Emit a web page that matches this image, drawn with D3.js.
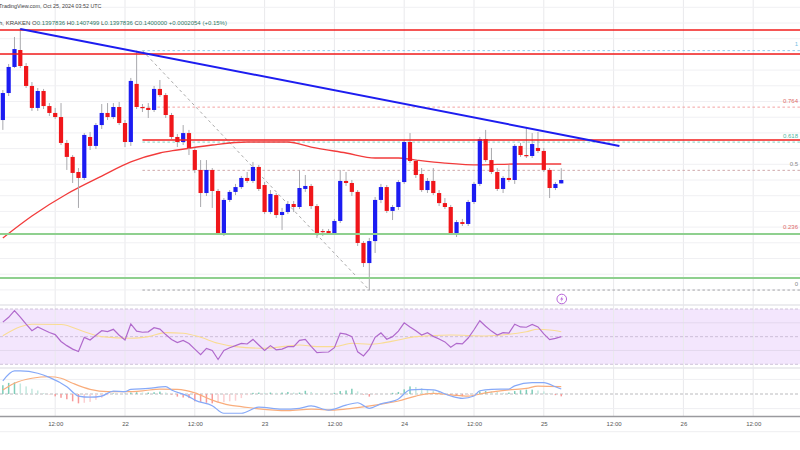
<!DOCTYPE html>
<html><head><meta charset="utf-8">
<script src="https://cdn.jsdelivr.net/npm/d3@7/dist/d3.min.js"></script>
<style>html,body{margin:0;padding:0;background:#fff;} svg{display:block;font-family:"Liberation Sans",Arial,sans-serif;}</style>
</head><body><svg id="c" width="800" height="450"></svg>
<script>
// ---------- DATA ----------
const firstCandleUTC = Date.UTC(2024, 9, 21, 3); // Oct 21 03:00, hourly candles
const opens = [
0.14382,0.14554,0.14720,0.14828,0.14726,0.14599,0.14459,0.14567,0.14471,0.14427,
0.14401,0.14236,0.14147,0.14051,0.14013,0.14274,0.14217,0.14350,0.14427,0.14401,
0.14465,0.14363,0.14242,0.14612,0.14465,0.14459,0.14446,0.14580,0.14541,0.14414,
0.14274,0.14242,0.14299,0.14191,0.14064,0.13917,0.14064,0.13930,0.13662,0.13873,
0.13924,0.13955,0.14013,0.13994,0.14083,0.13968,0.13796,0.13904,0.13777,0.13796,
0.13847,0.13828,0.13943,0.13962,0.13834,0.13675,0.13675,0.13662,0.13739,0.13994,
0.13981,0.13924,0.13599,0.13471,0.13611,0.13873,0.13955,0.13803,0.13828,0.13987,
0.14242,0.14121,0.14038,0.13936,0.13994,0.13917,0.13853,0.13828,0.13662,0.13732,
0.13720,0.13860,0.13975,0.14261,0.14127,0.14051,0.13943,0.14013,0.14000,0.14217,
0.14159,0.14153,0.14204,0.14185,0.14064,0.13949,0.1397836];
const highs = [
0.14573,0.14739,0.14911,0.14968,0.14745,0.14624,0.14586,0.14580,0.14490,0.14459,
0.14490,0.14255,0.14159,0.14076,0.14299,0.14306,0.14363,0.14484,0.14490,0.14490,
0.14497,0.14382,0.14650,0.14824,0.14484,0.14490,0.14599,0.14637,0.14554,0.14427,
0.14293,0.14350,0.14319,0.14204,0.14127,0.14127,0.14076,0.13943,0.13885,0.13936,
0.13975,0.14025,0.14051,0.14115,0.14096,0.13987,0.13936,0.13917,0.13822,0.13866,
0.13866,0.14064,0.14032,0.13975,0.13847,0.13688,0.13688,0.13752,0.14064,0.14051,
0.14000,0.13936,0.13611,0.13631,0.13892,0.13975,0.13968,0.13841,0.14000,0.14255,
0.14299,0.14134,0.14076,0.14013,0.14076,0.13936,0.13885,0.13841,0.13745,0.13752,
0.13873,0.13987,0.14274,0.14319,0.14204,0.14076,0.14025,0.14096,0.14229,0.14236,
0.14338,0.14299,0.14306,0.14204,0.14076,0.13987,0.1407499];
const lows = [
0.14319,0.14535,0.14713,0.14713,0.14586,0.14440,0.14440,0.14452,0.14408,0.14389,
0.14223,0.14064,0.13981,0.13822,0.14000,0.14191,0.14197,0.14325,0.14382,0.14389,
0.14350,0.14210,0.14217,0.14452,0.14433,0.14395,0.14433,0.14529,0.14395,0.14261,
0.14210,0.14223,0.14159,0.14045,0.13828,0.13898,0.13822,0.13650,0.13643,0.13860,
0.13904,0.13943,0.13981,0.13981,0.13930,0.13783,0.13783,0.13758,0.13682,0.13783,
0.13796,0.13815,0.13924,0.13815,0.13631,0.13643,0.13650,0.13650,0.13726,0.13962,
0.13898,0.13580,0.13446,0.13299,0.13535,0.13853,0.13790,0.13745,0.13809,0.13975,
0.14108,0.14013,0.13924,0.13917,0.13904,0.13834,0.13815,0.13650,0.13637,0.13707,
0.13707,0.13847,0.13962,0.14115,0.14038,0.13930,0.13917,0.13987,0.13975,0.14147,
0.14140,0.14140,0.14172,0.14051,0.13885,0.13936,0.1397836];
const closes = [
0.14554,0.14720,0.14834,0.14726,0.14599,0.14459,0.14567,0.14471,0.14427,0.14401,
0.14236,0.14147,0.14045,0.14013,0.14287,0.14217,0.14350,0.14427,0.14401,0.14465,
0.14363,0.14242,0.14631,0.14465,0.14459,0.14446,0.14580,0.14541,0.14414,0.14274,
0.14242,0.14299,0.14204,0.14064,0.13917,0.14064,0.13930,0.13662,0.13873,0.13924,
0.13955,0.14013,0.13994,0.14083,0.13943,0.13796,0.13911,0.13777,0.13796,0.13847,
0.13828,0.13949,0.13962,0.13834,0.13656,0.13669,0.13662,0.13739,0.13994,0.13981,
0.13924,0.13599,0.13471,0.13611,0.13873,0.13955,0.13803,0.13828,0.13987,0.14242,
0.14121,0.14032,0.13936,0.13994,0.13917,0.13853,0.13828,0.13662,0.13732,0.13720,
0.13860,0.13975,0.14261,0.14127,0.14051,0.13943,0.14013,0.14000,0.14217,0.14159,
0.14153,0.14229,0.14185,0.14064,0.13949,0.13975,0.14000];

// 100 EMA (sampled readings: candle index / price)
const emaIdx = [0,5,11,17,22,27,30,36,42,49,53,59,64,68,71,76,82,88,96];
const emaVal = [0.13631,0.13771,0.13911,0.14025,0.14115,0.14172,0.14191,0.14223,0.14242,0.14242,0.14210,0.14172,0.14140,0.14140,0.14127,0.14108,0.14096,0.14102,0.14102];

// horizontal levels
const resistanceLevels = [0.14956, 0.14803];       // full width
const pivotLevel = 0.14255; const pivotStartIdx = 24;
const supportLevels = [0.13656, 0.13376];
// bearish trend line (index, price)
const trendIdx = [3, 106];
const trendVal = [0.14962, 0.14217];
// Fibonacci retracement
const fibHighIdx = 24, fibLowIdx = 63;
const fibHigh = 0.14824, fibLow = 0.13299;
const fibLevels = [1, 0.764, 0.618, 0.5, 0.236, 0];
const fibLabels = ["1", "0.764", "0.618", "0.5", "0.236", "0"];

// RSI (per candle)
const rsi = [60.5,64,68.8,64.2,59,54.3,57,55,53,51.5, 46.5,43.5,41,39.2,49.5,47.6,51,54.3,53.6,55.3,
51,47.6,59.2,54,53.2,53.5,56.5,55.5,51.5,48, 45.7,47.3,45,41,37,41.5,40,33.5,40,42,
43.5,45.1,44.7,48,44,40,43.5,40.5,41,42.8, 42.8,47.3,48,43,38.4,38.7,38.9,42,52.5,51.8,
50,39,36,41,49.5,52.7,48.1,50,54,60, 57,54.2,51.2,52.8,50.2,48.3,46.2,42.4,45.2,44.8,
49,55,61.5,57.5,54,51.2,52.9,52.6,59,57, 56.8,58.8,57,52,47.8,48.8,50];
const rsiMaIdx = [0,3,5,10,14,17,22,25,28,31,34,37,40,45,51,54,57,60,63,65,68,71,77,83,87,90,92,94,96];
const rsiMaVal = [50.7,57.2,59,58.8,53.6,50,48.8,50,52.9,52.5,49.5,45.2,42.8,41.6,44,42.8,42.8,45.2,44.5,45.2,47.6,50,51.2,50.5,51.7,53.6,55.3,54.8,53.6];

// MACD (sampled readings)
const macdIdx = [0,2,3,6,8,11,13,15,17,19,21,22,25,28,29,32,33,36,38,41,44,48,51,53,56,59,61,63,65,68,70,72,74,77,79,81,82,84,87,88,91,93,95,96];
const macdVal = [0.00045,0.00079,0.00079,0.00071,0.00057,0.00025,-0.00007,-0.00011,-0.00007,0.00010,
0.00008,0.00016,0.00019,0.00025,0.00014,-0.00009,-0.00021,-0.00040,-0.00066,-0.00066,
-0.00045,-0.00052,-0.00049,-0.00041,-0.00055,-0.00038,-0.00030,-0.00049,-0.00034,-0.00017,
0.00014,0.00016,0.00014,-0.00007,-0.00015,-0.00007,0.00011,0.00016,0.00017,0.00028,
0.00039,0.00039,0.00025,0.00017];
const signalIdx = [0,2,5,8,10,12,15,18,21,24,27,30,33,36,39,41,44,49,53,57,60,64,68,71,74,77,80,83,87,90,92,96];
const signalVal = [0.00014,0.00037,0.00054,0.00059,0.00054,0.00037,0.00016,0.00008,0.00008,0.00011,
0.00017,0.00016,0.00004,-0.00021,-0.00038,-0.00043,-0.00051,-0.00057,-0.00052,-0.00055,
-0.00049,-0.00038,-0.00024,-0.00007,0.00002,-0.00003,-0.00007,0.00004,0.00014,0.00019,0.00027,0.00025];
const histogram = [0.00030,0.00038,0.00040,0.00036,0.00026,0.00018,0.00012,0.00003,-0.00001,-0.00008,
-0.00013,-0.00018,-0.00025,-0.00032,-0.00030,-0.00027,-0.00020,-0.00013,-0.00004,0.00002,
0.00000,0.00001,0.00005,0.00006,0.00005,0.00005,0.00006,0.00008,0.00005,-0.00002,
-0.00009,-0.00012,-0.00014,-0.00025,-0.00027,-0.00030,-0.00032,-0.00030,-0.00028,-0.00025,
-0.00023,-0.00014,-0.00004,0.00004,0.00005,0.00004,0.00005,0.00004,0.00005,0.00007,
0.00005,0.00005,0.00011,0.00007,0.00003,0.00001,0.00000,0.00004,0.00010,0.00012,
0.00018,0.00009,-0.00002,-0.00009,-0.00002,0.00000,0.00000,0.00004,0.00007,0.00016,
0.00026,0.00024,0.00020,0.00014,0.00012,0.00007,0.00002,-0.00004,-0.00007,-0.00008,
-0.00004,-0.00002,0.00009,0.00010,0.00009,0.00007,0.00004,0.00005,0.00010,0.00013,
0.00015,0.00015,0.00012,0.00009,0.00002,-0.00004,-0.00008];

// time axis
const tickTimes = [Date.UTC(2024,9,21,12),Date.UTC(2024,9,22,0),Date.UTC(2024,9,22,12),Date.UTC(2024,9,23,0),
Date.UTC(2024,9,23,12),Date.UTC(2024,9,24,0),Date.UTC(2024,9,24,12),Date.UTC(2024,9,25,0),
Date.UTC(2024,9,25,12),Date.UTC(2024,9,26,0),Date.UTC(2024,9,26,12)];
const tickLabels = ["12:00","22","12:00","23","12:00","24","12:00","25","12:00","26","12:00"];

const headerLine1 = "TradingView.com, Oct 25, 2024 03:52 UTC";
const headerSymbol = "h, KRAKEN";
const headerOHLC = [["O","0.1397836"],["H","0.1407499"],["L","0.1397836"],["C","0.1400000"]];
const headerChange = "+0.0002054 (+0.15%)";

// ---------- CHART ----------
const svg = d3.select('#c');
const HOUR = 3600e3;
const tOf = i => new Date(firstCandleUTC + i * HOUR);
const x = d3.scaleUtc()
  .domain([new Date(Date.UTC(2024,9,21,0)), new Date(Date.UTC(2024,9,27,0))])
  .range([-14.6, 823.0]);
const xi = i => x(tOf(i));

const PR = {top:0, bottom:305}, RS = {top:305, bottom:368}, MC = {top:368, bottom:416.5};
const y = d3.scaleLinear().domain([0.13, 0.15]).range([337, 23]);
const yr = d3.scaleLinear().domain([30, 70]).range([364.3, 309]);
const ym = d3.scaleLinear().domain([-0.0005, 0.0005]).range([408.6, 379.4]);

const defs = svg.append('defs');
function clip(id, top, bottom){ defs.append('clipPath').attr('id', id).append('rect').attr('x',0).attr('y',top).attr('width',800).attr('height',bottom-top); }
clip('cp', PR.top, PR.bottom); clip('cr', RS.top, RS.bottom); clip('cm', MC.top, MC.bottom);

svg.append('rect').attr('width',800).attr('height',450).attr('fill','#fff');

// RSI band
svg.append('rect').attr('x',0).attr('width',800).attr('y',yr(70)).attr('height',yr(30)-yr(70)).attr('fill','#f3e6fd');

// vertical grid
svg.append('g').selectAll('line').data(tickTimes).join('line')
  .attr('x1',d=>x(new Date(d))).attr('x2',d=>x(new Date(d))).attr('y1',0).attr('y2',MC.bottom)
  .attr('stroke','#e9e9ec').attr('stroke-width',1);

// price horizontal grid
const priceGrid = d3.range(130,153).map(v=>v/1000).filter(p=>y(p)>0 && y(p)<PR.bottom-2);
svg.append('g').selectAll('line').data(priceGrid).join('line')
  .attr('x1',0).attr('x2',800).attr('y1',d=>y(d)).attr('y2',d=>y(d))
  .attr('stroke','#f0f0f3').attr('stroke-width',1);
// rsi grid
svg.append('g').selectAll('line').data([60,40]).join('line')
  .attr('x1',0).attr('x2',800).attr('y1',d=>yr(d)).attr('y2',d=>yr(d))
  .attr('stroke','#e4d8ee').attr('stroke-width',1);
svg.append('g').selectAll('line').data([70,50,30]).join('line')
  .attr('x1',0).attr('x2',800).attr('y1',d=>yr(d)).attr('y2',d=>yr(d))
  .attr('stroke','#c4b6d0').attr('stroke-width',0.8).attr('stroke-dasharray','3,2');
// macd grid
svg.append('g').selectAll('line').data([0.0005,-0.0005]).join('line')
  .attr('x1',0).attr('x2',800).attr('y1',d=>ym(d)).attr('y2',d=>ym(d))
  .attr('stroke','#efeff2').attr('stroke-width',1);
svg.append('line').attr('x1',0).attr('x2',800).attr('y1',ym(0)).attr('y2',ym(0))
  .attr('stroke','#a8a8ac').attr('stroke-width',0.8).attr('stroke-dasharray','3,2');
// pane separators
svg.append('g').selectAll('line').data([PR.bottom, RS.bottom]).join('line')
  .attr('x1',0).attr('x2',800).attr('y1',d=>d).attr('y2',d=>d)
  .attr('stroke','#e6e6ea').attr('stroke-width',1.5);

// ---- price pane ----
const gp = svg.append('g').attr('clip-path','url(#cp)');
// fib lines
const fibColors = ['#93cbee','#f3a2a2','#7fd0bf','#cfa8ab','#f3a2a2','#a5a5a8'];
const fibTextColors = ['#79bfe4','#e06a6a','#4fb6a2','#888888','#e06a6a','#888888'];
const fibPrice = l => fibLow + l*(fibHigh - fibLow);
gp.append('g').selectAll('line').data(fibLevels).join('line')
  .attr('x1', xi(fibHighIdx)).attr('x2', 800)
  .attr('y1', d=>y(fibPrice(d))).attr('y2', d=>y(fibPrice(d)))
  .attr('stroke',(d,i)=>fibColors[i]).attr('stroke-width',1).attr('stroke-dasharray','2.5,2.5');
gp.append('line').attr('x1',xi(fibHighIdx)).attr('y1',y(fibHigh)).attr('x2',xi(fibLowIdx)).attr('y2',y(fibLow))
  .attr('stroke','#ababab').attr('stroke-width',1).attr('stroke-dasharray','3,3');

// EMA
const emaPts = emaIdx.map((k,j)=>[xi(k), y(emaVal[j])]);
gp.append('path').attr('d', d3.line().curve(d3.curveMonotoneX)(emaPts))
  .attr('fill','none').attr('stroke','#f23b3b').attr('stroke-width',1.3);

// candles
const idx = d3.range(opens.length);
const up = i => closes[i] >= opens[i];
gp.append('g').selectAll('line').data(idx).join('line')
  .attr('x1',i=>xi(i)).attr('x2',i=>xi(i)).attr('y1',i=>y(highs[i])).attr('y2',i=>y(lows[i]))
  .attr('stroke','#a9a9ad').attr('stroke-width',1);
gp.append('g').selectAll('rect').data(idx).join('rect')
  .attr('x',i=>xi(i)-2.1).attr('width',4.2)
  .attr('y',i=>y(Math.max(opens[i],closes[i])))
  .attr('height',i=>Math.max(1.2, Math.abs(y(opens[i])-y(closes[i]))))
  .attr('fill',i=>up(i)?'#1c1cf2':'#f0161a');

// horizontal drawings
gp.append('g').selectAll('line').data(resistanceLevels).join('line')
  .attr('x1',0).attr('x2',800).attr('y1',d=>y(d)).attr('y2',d=>y(d))
  .attr('stroke','#f21c1c').attr('stroke-width',1.5);
gp.append('line').attr('x1',xi(pivotStartIdx)).attr('x2',800).attr('y1',y(pivotLevel)).attr('y2',y(pivotLevel))
  .attr('stroke','#f21c1c').attr('stroke-width',1.5);
gp.append('g').selectAll('line').data(supportLevels).join('line')
  .attr('x1',0).attr('x2',800).attr('y1',d=>y(d)).attr('y2',d=>y(d))
  .attr('stroke','#8fd08f').attr('stroke-width',2);
// trend line
gp.append('line').attr('x1',xi(trendIdx[0])).attr('y1',y(trendVal[0])).attr('x2',xi(trendIdx[1])).attr('y2',y(trendVal[1]))
  .attr('stroke','#1d1df0').attr('stroke-width',2);

// fib labels
svg.append('g').selectAll('text').data(fibLevels).join('text')
  .attr('x',798).attr('y',d=>y(fibPrice(d))-4.3).attr('text-anchor','end')
  .attr('font-size',6).attr('fill',(d,i)=>fibTextColors[i]).text((d,i)=>fibLabels[i]);

// event icon
const ic = svg.append('g').attr('transform',`translate(${xi(opens.length-1)+0.5},299)`);
ic.append('circle').attr('r',4.8).attr('fill','#fff').attr('stroke','#b764d8').attr('stroke-width',1);
ic.append('path').attr('d','M0.8,-3 L-1.6,0.4 L0,0.4 L-0.8,3 L1.6,-0.6 L0,-0.6 Z').attr('fill','#b764d8');

// ---- RSI pane ----
const gr = svg.append('g').attr('clip-path','url(#cr)');
gr.append('path').attr('d', d3.line().curve(d3.curveMonotoneX)(rsiMaIdx.map((k,j)=>[xi(k), yr(rsiMaVal[j])])))
  .attr('fill','none').attr('stroke','#f9dc93').attr('stroke-width',1.1);
gr.append('path').attr('d', d3.line()(rsi.map((v,i)=>[xi(i), yr(v)])))
  .attr('fill','none').attr('stroke','#b069cc').attr('stroke-width',1.2);

// ---- MACD pane ----
const gm = svg.append('g').attr('clip-path','url(#cm)');
const histColor = i => {
  const v = histogram[i], p = i>0 ? histogram[i-1] : 0;
  if (v >= 0) return v >= p ? '#7fcdb9' : '#c4e8df';
  return v < p ? '#f79a9a' : '#fbcfd2';
};
gm.append('g').selectAll('rect').data(idx).join('rect')
  .attr('x',i=>xi(i)-0.75).attr('width',1.5)
  .attr('y',i=>Math.min(ym(0), ym(histogram[i])))
  .attr('height',i=>Math.abs(ym(histogram[i])-ym(0)))
  .attr('fill',i=>histColor(i));
gm.append('path').attr('d', d3.line().curve(d3.curveMonotoneX)(signalIdx.map((k,j)=>[xi(k), ym(signalVal[j])])))
  .attr('fill','none').attr('stroke','#f9ad7c').attr('stroke-width',1.2);
gm.append('path').attr('d', d3.line().curve(d3.curveMonotoneX)(macdIdx.map((k,j)=>[xi(k), ym(macdVal[j])])))
  .attr('fill','none').attr('stroke','#86a9f8').attr('stroke-width',1.2);

// ---- time axis ----
svg.append('line').attr('x1',0).attr('x2',800).attr('y1',MC.bottom).attr('y2',MC.bottom)
  .attr('stroke','#9a9a9e').attr('stroke-width',1.3);
svg.append('line').attr('x1',0).attr('x2',800).attr('y1',431.7).attr('y2',431.7)
  .attr('stroke','#eeeef0').attr('stroke-width',1);
const ax = svg.append('g').attr('transform',`translate(0,${MC.bottom})`)
  .call(d3.axisBottom(x).tickValues(tickTimes.map(d=>new Date(d))).tickFormat((d,i)=>tickLabels[i]).tickSize(0).tickPadding(5));
ax.select('.domain').remove();
ax.selectAll('text').attr('font-size',6).attr('fill','#555').attr('font-family','"Liberation Sans",Arial,sans-serif');

// ---- header ----
svg.append('text').attr('x',-1).attr('y',8).attr('font-size',5.4).attr('fill','#444').text(headerLine1);
const hdr = svg.append('text').attr('x',-1).attr('y',24.5).attr('font-size',6);
hdr.append('tspan').attr('fill','#444').text(headerSymbol + '  ');
headerOHLC.forEach(([k,v])=>{
  hdr.append('tspan').attr('fill','#444').text(' ' + k);
  hdr.append('tspan').attr('fill','#2f7a66').text(v + '  ');
});
hdr.append('tspan').attr('fill','#2f7a66').text(' ' + headerChange);
</script></body></html>
